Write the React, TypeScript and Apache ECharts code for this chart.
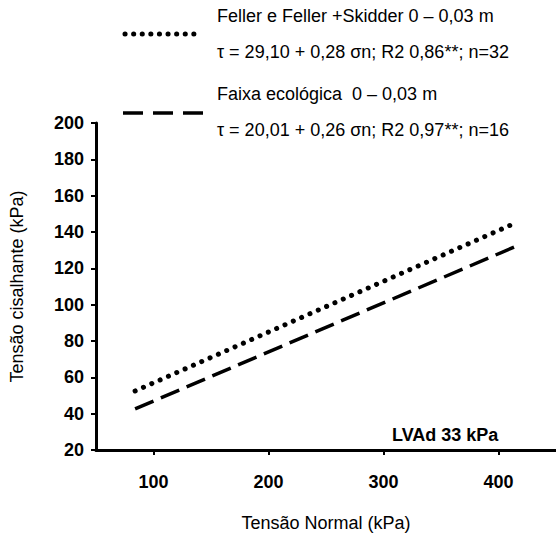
import React, { useEffect, useRef } from "react";
import * as echarts from "echarts";

const xTicks = [100, 200, 300, 400];
const fellerLine = [
  [84, 52.5],
  [412, 144.2],
];
const faixaLine = [
  [84, 42.6],
  [414, 131.8],
];
const legendTexts = [
  "Feller e Feller +Skidder 0 – 0,03 m",
  "τ = 29,10 + 0,28 σn; R2 0,86**; n=32",
  "Faixa ecológica  0 – 0,03 m",
  "τ = 20,01 + 0,26 σn; R2 0,97**; n=16",
];
const soilLabel = "LVAd 33 kPa";

export default function App() {
  const ref = useRef<HTMLDivElement>(null);
  useEffect(() => {
    const chart = echarts.init(ref.current!, null, { renderer: "svg" });
    const font = "Arial, 'Liberation Sans', sans-serif";
    const txt = (x: number, y: number, t: string, extra: any = {}) => ({
      type: "text",
      x,
      y,
      style: {
        text: t,
        fill: "#000",
        font: `18px ${font}`,
        textVerticalAlign: "middle",
        ...extra,
      },
    });
    chart.setOption({
      animation: false,
      backgroundColor: "#fff",
      grid: { left: 93, top: 123, right: -4, bottom: 78 },
      xAxis: {
        type: "value",
        min: 50,
        max: 450,
        name: "Tensão Normal (kPa)",
        nameLocation: "middle",
        nameGap: 64,
        nameTextStyle: { fontFamily: font, fontSize: 18, color: "#000" },
        axisLine: { lineStyle: { color: "#000", width: 3 } },
        axisTick: { show: true, length: 5, lineStyle: { width: 2, color: "#000" }, customValues: xTicks },
        axisLabel: {
          customValues: xTicks,
          fontFamily: font,
          fontWeight: "bold",
          fontSize: 18,
          color: "#000",
          margin: 23,
        },
        splitLine: { show: false },
      },
      yAxis: {
        type: "value",
        min: 20,
        max: 200,
        interval: 20,
        name: "Tensão cisalhante (kPa)",
        nameLocation: "middle",
        nameGap: 70,
        nameTextStyle: { fontFamily: font, fontSize: 18, color: "#000" },
        axisLine: { show: true, lineStyle: { color: "#000", width: 3 } },
        axisTick: { show: true, length: 5, lineStyle: { width: 2, color: "#000" } },
        axisLabel: {
          fontFamily: font,
          fontWeight: "bold",
          fontSize: 18,
          color: "#000",
          margin: 12,
        },
        splitLine: { show: false },
      },
      series: [
        {
          type: "line",
          data: fellerLine,
          symbol: "none",
          lineStyle: { color: "#000", width: 5, type: [0.1, 9], cap: "round" },
        },
        {
          type: "line",
          data: faixaLine,
          symbol: "none",
          lineStyle: { color: "#000", width: 3.5, type: [20, 8], cap: "butt" },
        },
      ],
      graphic: [
        {
          type: "line",
          shape: { x1: 125, y1: 34, x2: 202, y2: 34 },
          style: { stroke: "#000", lineWidth: 5, lineDash: [0.1, 8.5], lineCap: "round" },
        },
        {
          type: "line",
          shape: { x1: 123, y1: 113, x2: 204, y2: 113 },
          style: { stroke: "#000", lineWidth: 3.5, lineDash: [20, 10] },
        },
        txt(217, 16, legendTexts[0]),
        txt(217, 52, legendTexts[1]),
        txt(217, 94, legendTexts[2]),
        txt(217, 130, legendTexts[3]),
        txt(392, 435, soilLabel, { font: `bold 18px ${font}` }),
      ],
    });
    return () => chart.dispose();
  }, []);
  return (
    <div
      ref={ref}
      style={{ position: "fixed", left: 0, top: 0, width: 556, height: 537 }}
    />
  );
}
